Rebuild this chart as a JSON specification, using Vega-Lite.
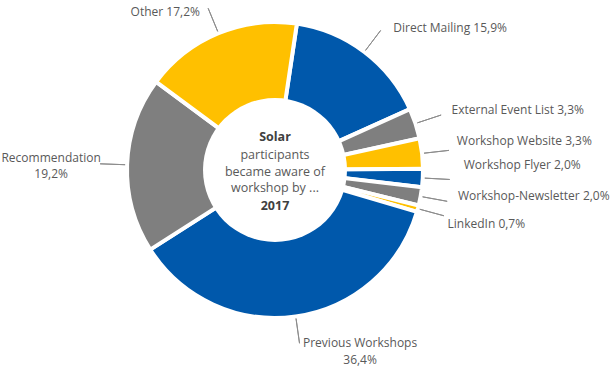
{
  "$schema": "https://vega.github.io/schema/vega-lite/v6.json",
  "width": 550,
  "height": 340,
  "padding": {"left": 0, "top": 0, "right": 60, "bottom": 30},
  "autosize": {"type": "none"},
  "background": "white",
  "config": {"view": {"stroke": null}, "text": {"font": "Open Sans"}},
  "datasets": {
    "slices": [
      {"cat": "Direct Mailing", "value": 15.9, "label": "Direct Mailing 15,9%"},
      {"cat": "External Event List", "value": 3.3, "label": "External Event List 3,3%"},
      {"cat": "Workshop Website", "value": 3.3, "label": "Workshop Website 3,3%"},
      {"cat": "Workshop Flyer", "value": 2.0, "label": "Workshop Flyer 2,0%"},
      {"cat": "Workshop-Newsletter", "value": 2.0, "label": "Workshop-Newsletter 2,0%"},
      {"cat": "LinkedIn", "value": 0.7, "label": "LinkedIn 0,7%"},
      {"cat": "Previous Workshops", "value": 36.4, "label": "Previous Workshops\n36,4%"},
      {"cat": "Recommendation", "value": 19.2, "label": "Recommendation\n19,2%"},
      {"cat": "Other", "value": 17.2, "label": "Other 17,2%"}
    ],
    "center": [
      {"part": "top", "line": "Solar"},
      {"part": "mid", "line": "participants\nbecame aware of\nworkshop by ..."},
      {"part": "bottom", "line": "2017"}
    ]
  },
  "layer": [
    {
      "data": {"name": "slices"},
      "transform": [{"stack": "value", "groupby": [], "as": ["v0", "v1"]}],
      "mark": {"type": "arc", "outerRadius": 148, "innerRadius": 63, "stroke": "white", "strokeWidth": 4},
      "encoding": {
        "theta": {"field": "v0", "type": "quantitative", "stack": null, "scale": {"type": "linear", "domain": [0, 100], "range": [0.1484, 6.4316]}},
        "theta2": {"field": "v1"},
        "color": {
          "field": "cat",
          "type": "nominal",
          "legend": null,
          "scale": {
            "domain": ["Direct Mailing", "External Event List", "Workshop Website", "Workshop Flyer", "Workshop-Newsletter", "LinkedIn", "Previous Workshops", "Recommendation", "Other"],
            "range": ["#0058AB", "#7F7F7F", "#FFC000", "#0058AB", "#7F7F7F", "#FFC000", "#0058AB", "#7F7F7F", "#FFC000"]
          }
        }
      }
    },
    {
      "data": {"values": [{"c": 1}]},
      "mark": {"type": "arc", "theta": 0, "theta2": 6.2832, "outerRadius": 72, "innerRadius": 0, "fill": "white"},
      "encoding": {}
    },
    {
      "data": {"name": "center"},
      "transform": [{"filter": {"field": "part", "equal": "top"}}],
      "mark": {"type": "text", "fontSize": 12.5, "fontWeight": "bold", "fill": "#404040", "align": "center", "baseline": "middle", "dy": -33},
      "encoding": {"text": {"field": "line"}}
    },
    {
      "data": {"name": "center"},
      "transform": [{"filter": {"field": "part", "equal": "mid"}}],
      "mark": {"type": "text", "fontSize": 12.5, "fill": "#595959", "align": "center", "baseline": "middle", "lineBreak": "\n", "lineHeight": 16.5, "dy": -15},
      "encoding": {"text": {"field": "line"}}
    },
    {
      "data": {"name": "center"},
      "transform": [{"filter": {"field": "part", "equal": "bottom"}}],
      "mark": {"type": "text", "fontSize": 12.5, "fontWeight": "bold", "fill": "#404040", "align": "center", "baseline": "middle", "dy": 36},
      "encoding": {"text": {"field": "line"}}
    },
    {
      "data": {"name": "slices"},
      "transform": [
        {"stack": "value", "groupby": [], "as": ["v0", "v1"]},
        {"fold": ["v0", "v1"], "as": ["k", "edge"]},
        {"aggregate": [{"op": "mean", "field": "edge", "as": "mid"}], "groupby": ["cat", "label"]}
      ],
      "encoding": {
        "theta": {"field": "mid", "type": "quantitative", "stack": null, "scale": {"type": "linear", "domain": [0, 100], "range": [0.1484, 6.4316]}},
        "text": {"field": "label"}
      },
      "layer": [
        {
          "mark": {"type": "arc", "outerRadius": 175, "innerRadius": 150, "filled": false, "stroke": "#8C8C8C", "strokeWidth": 1},
          "encoding": {"theta2": {"field": "mid"}, "text": null}
        },
        {
          "transform": [{"filter": {"field": "cat", "equal": "Direct Mailing"}}],
          "mark": {"type": "text", "radius": 186, "fontSize": 12, "fill": "#595959", "align": "left", "baseline": "middle", "dx": 6, "dy": 6}
        },
        {
          "transform": [{"filter": {"field": "cat", "equal": "External Event List"}}],
          "mark": {"type": "text", "radius": 186, "fontSize": 12, "fill": "#595959", "align": "left", "baseline": "middle", "dx": 0, "dy": -2}
        },
        {
          "transform": [{"filter": {"field": "cat", "equal": "Workshop Website"}}],
          "mark": {"type": "text", "radius": 186, "fontSize": 12, "fill": "#595959", "align": "left", "baseline": "middle", "dx": -3, "dy": -8}
        },
        {
          "transform": [{"filter": {"field": "cat", "equal": "Workshop Flyer"}}],
          "mark": {"type": "text", "radius": 186, "fontSize": 12, "fill": "#595959", "align": "left", "baseline": "middle", "dx": 3, "dy": -15}
        },
        {
          "transform": [{"filter": {"field": "cat", "equal": "Workshop-Newsletter"}}],
          "mark": {"type": "text", "radius": 186, "fontSize": 12, "fill": "#595959", "align": "left", "baseline": "middle", "dx": 0, "dy": -7}
        },
        {
          "transform": [{"filter": {"field": "cat", "equal": "LinkedIn"}}],
          "mark": {"type": "text", "radius": 186, "fontSize": 12, "fill": "#595959", "align": "left", "baseline": "middle", "dx": -7, "dy": 5}
        },
        {
          "transform": [{"filter": {"field": "cat", "equal": "Other"}}],
          "mark": {"type": "text", "radius": 186, "fontSize": 12, "fill": "#595959", "align": "right", "baseline": "middle", "dx": -4, "dy": 14}
        },
        {
          "transform": [{"filter": {"field": "cat", "equal": "Recommendation"}}],
          "mark": {"type": "text", "radius": 186, "fontSize": 12, "fill": "#595959", "align": "center", "baseline": "middle", "lineBreak": "\n", "lineHeight": 16.5, "dx": -38, "dy": -5.5}
        },
        {
          "transform": [{"filter": {"field": "cat", "equal": "Previous Workshops"}}],
          "mark": {"type": "text", "radius": 186, "fontSize": 12, "fill": "#595959", "align": "center", "baseline": "middle", "lineBreak": "\n", "lineHeight": 17, "dx": 59, "dy": -11}
        }
      ]
    }
  ]
}
